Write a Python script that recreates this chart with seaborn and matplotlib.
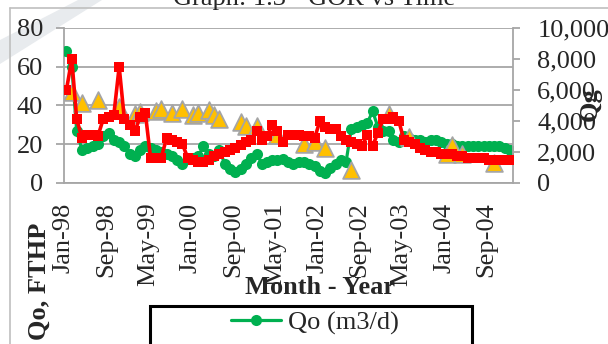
import numpy as np
import pandas as pd
import matplotlib
matplotlib.use("Agg")
import matplotlib.pyplot as plt
import matplotlib.transforms as mtransforms
from matplotlib.lines import Line2D
from matplotlib.patches import Rectangle, Polygon
from matplotlib.ticker import StrMethodFormatter
import seaborn as sns

# ---- data -------------------------------------------------------------
# monthly production records, Jan-1998 .. Jan-2005 (plotted mid-month)
months = pd.date_range("1998-01-01", periods=85, freq="MS")

qo_m3d = [68, 60, 27, 17, 18, 19, 20, 24, 26, 22,
          21, 19, 15, 14, 17, 19, 18, 17, 16, 15,
          14, 12, 10, 13, 13, 14, 19, 15, 14, 17,
          10, 7, 5.5, 7, 10, 13, 15, 10, 11, 12,
          12, 12.5, 11, 10, 11, 11, 10, 9, 6, 5,
          7.5, 10, 12, 11, 28, 29, 30, 31, 37, 29,
          27, 27, 22, 21, 24, 23, 22, 22, 21, 22,
          22, 21, 20, 20, 19, 19, 19, 19, 19, 19,
          19, 19, 19, 18, 17]

fthp = [48, 64, 33, 23, 25, 25, 24, 33, 34, 35,
        60, 33, 30, 27, 34, 36, 13, 13, 13, 23,
        22, 21, 20, 13, 12, 11, 11, 12, 14, 15,
        16, 17, 18, 19.5, 21, 22, 27, 22, 24, 30,
        27, 21, 25, 25, 25, 24, 24, 23, 32, 29,
        28, 28, 24, 22, 21, 20, 19, 25, 19, 26,
        33, 33, 34, 32, 22, 21, 20, 18, 17, 16,
        16, 15, 15, 15, 14, 14, 13, 13, 13, 13,
        12, 12, 12, 12, 12]

# GOR readings are only available for some months
gor_month_idx = [1, 3, 6, 10, 13, 14, 17, 18, 20, 22,
                 24, 25, 27, 28, 29, 33, 34, 36, 40, 45,
                 47, 49, 54, 61, 65, 72, 73, 75, 81]
gor_values = [5900, 5150, 5350, 4900, 4450, 4550, 4650, 4750, 4500, 4800,
              4400, 4500, 4700, 4400, 4150, 3950, 3700, 3700, 3100, 2500,
              2650, 2250, 850, 4450, 2950, 1900, 2450, 1900, 1300]

tick_months = ["1998-01", "1998-09", "1999-05", "2000-01", "2000-09", "2001-05",
               "2002-01", "2002-09", "2003-05", "2004-01", "2004-09"]
left_ticks = [0, 20, 40, 60, 80]
right_ticks = [0, 2000, 4000, 6000, 8000, 10000]

# ---- frame --------------------------------------------------------------
dates = months + pd.Timedelta(days=14)
gor = np.full(len(months), np.nan)
gor[gor_month_idx] = gor_values
df = pd.DataFrame({"date": dates, "qo": qo_m3d, "fthp": fthp, "gor": gor})

sns.set_style("white")
plt.rcParams["font.family"] = ["Liberation Serif", "DejaVu Serif"]
plt.rcParams["font.size"] = 19

GREEN = "#00B050"
RED = "#FF0000"
GOLD = "#FFC000"
GRID = "#A6A6A6"

W, H = 608, 344
fig = plt.figure(figsize=(W / 100, H / 100), dpi=100)
fig.patch.set_facecolor("white")

# faint diagonal stroke behind the chart
fig.add_artist(Polygon([(0, 1 - 40 / H), (78 / W, 1.0), (102 / W, 1.0), (0, 1 - 64 / H)],
                       closed=True, transform=fig.transFigure,
                       facecolor="#E8EBEE", edgecolor="none", zorder=0))

# chart-area border
fig.add_artist(Line2D([10 / W, 10 / W], [-0.1, 1 - 7.5 / H], transform=fig.transFigure,
                      color="#BFBFBF", lw=1.2, zorder=1))
fig.add_artist(Line2D([10 / W, 1.1], [1 - 7.5 / H, 1 - 7.5 / H], transform=fig.transFigure,
                      color="#BFBFBF", lw=1.2, zorder=1))

rect = [64 / W, 1 - 183 / H, (513 - 64) / W, 155 / H]
ax = fig.add_axes(rect)
ax.patch.set_alpha(0)
ax2 = ax.twinx()
ax3 = fig.add_axes(rect, sharex=ax, sharey=ax, frameon=False)

# Qo on the primary axis (bottom layer)
sns.lineplot(data=df, x="date", y="qo", ax=ax, color=GREEN, lw=2.3,
             marker="o", markersize=8, markeredgewidth=0, markeredgecolor=GREEN,
             legend=False, zorder=3)
# GOR on the secondary axis
sns.scatterplot(data=df, x="date", y="gor", ax=ax2, marker="^", s=145,
                color=GOLD, edgecolor="#A5A5A5", linewidth=1.3, legend=False, zorder=3)
# FTHP on the primary scale, top layer
sns.lineplot(data=df, x="date", y="fthp", ax=ax3, color=RED, lw=2.6,
             marker="s", markersize=7.6, markeredgewidth=0, markeredgecolor=RED,
             legend=False, zorder=3)
ax3.axis("off")

ax.set_xlim(pd.Timestamp("1998-01-01"), pd.Timestamp("2005-02-01"))
ax.set_ylim(0, 80)
ax2.set_ylim(0, 10000)

ax.set_yticks(left_ticks)
ax2.set_yticks(right_ticks)
ax2.yaxis.set_major_formatter(StrMethodFormatter("{x:,.0f}"))

tick_dates = pd.to_datetime(tick_months)
ax.set_xticks(tick_dates)
ax.set_xticklabels([d.strftime("%b-%y") for d in tick_dates], rotation=90)
offset = mtransforms.ScaledTranslation(3 / 100, 0, fig.dpi_scale_trans)
for lab in ax.get_xticklabels():
    lab.set_transform(lab.get_transform() + offset)

ax.set_xlabel("")
ax.set_ylabel("")
ax2.set_ylabel("")
ax3.set_xlabel("")
ax3.set_ylabel("")

ax.yaxis.grid(True, color=GRID, lw=1.3)
ax.xaxis.grid(False)
ax.set_axisbelow(True)

for s in ["top", "right"]:
    ax.spines[s].set_visible(False)
for s in ["left", "bottom"]:
    ax.spines[s].set_color(GRID)
    ax.spines[s].set_linewidth(1.3)
for s in ["top", "left", "bottom"]:
    ax2.spines[s].set_visible(False)
ax2.spines["right"].set_color(GRID)
ax2.spines["right"].set_linewidth(1.3)

ax.tick_params(axis="y", length=6, width=1.3, color=GRID, pad=9, labelsize=19)
ax.tick_params(axis="x", length=6, width=1.3, color=GRID, pad=8, labelsize=19)
ax2.tick_params(axis="y", length=5, width=1.3, color=GRID, pad=12.5, labelsize=19)

# titles and axis captions
fig.text(314 / W, 1 - 5 / H, "Graph: 1.3 - GOR vs Time", ha="center", va="baseline",
         fontsize=19)
fig.text(320 / W, 1 - 288 / H, "Month - Year", ha="center", va="center",
         fontsize=19, fontweight="bold")
fig.text(39 / W, 1 - 223 / H, "Qo, FTHP", rotation=90, ha="center", va="top",
         fontsize=19, fontweight="bold")
fig.text(579 / W, 1 - 104 / H, "Qg", rotation=90, ha="left", va="center",
         fontsize=19, fontweight="bold")

# legend
fig.add_artist(Rectangle((150 / W, -0.2), (472 - 150) / W, 0.2 + 1 - 306 / H,
                         transform=fig.transFigure, fill=False,
                         edgecolor="black", lw=2.2, zorder=5))
handle = Line2D([0], [0], color=GREEN, lw=2.3, marker="o", markersize=8,
                markeredgewidth=0)
fig.legend(handles=[handle], labels=["Qo (m3/d)"], loc="center",
           bbox_to_anchor=(315 / W, 1 - 323 / H), frameon=False, fontsize=19,
           handlelength=1.9, handletextpad=0.25, borderpad=0)

fig.savefig("out.png", dpi=100)
